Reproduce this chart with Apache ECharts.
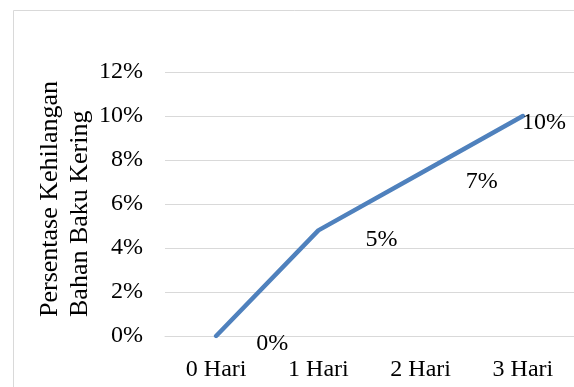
<!DOCTYPE html>
<html>
<head>
<meta charset="utf-8">
<script src="https://cdn.jsdelivr.net/npm/echarts@6/dist/echarts.min.js"></script>
<style>
html,body{margin:0;padding:0;background:#fff;}
#chart{width:574px;height:387px;}
</style>
</head>
<body>
<div id="chart"></div>
<script>
// ---- data ----
const categories = ['0 Hari', '1 Hari', '2 Hari', '3 Hari'];
const lossValues = [0, 0.048, 0.074, 0.100];
const yTicks = { min: 0, max: 0.12, interval: 0.02 };
const yAxisTitle = 'Persentase Kehilangan\nBahan Baku Kering';

// ---- style ----
const FONT = '"Liberation Serif", "Times New Roman", serif';
const labelOffsets = [[56, 8], [63, 9], [61, 9], [21, 7]];

const chart = echarts.init(document.getElementById('chart'), null, { renderer: 'canvas' });
const pct = v => Math.round(v * 100) + '%';

chart.setOption({
  animation: false,
  backgroundColor: '#fff',
  grid: { left: 165, top: 72, bottom: 51, right: -7, containLabel: false },
  xAxis: {
    type: 'category',
    data: categories,
    boundaryGap: true,
    axisLine: { show: true, lineStyle: { color: '#d9d9d9', width: 1 } },
    axisTick: { show: false },
    axisLabel: { color: '#000', fontFamily: FONT, fontSize: 24, margin: 22 },
    splitLine: { show: false }
  },
  yAxis: {
    type: 'value',
    min: yTicks.min, max: yTicks.max, interval: yTicks.interval,
    axisLine: { show: false },
    axisTick: { show: false },
    axisLabel: { color: '#000', fontFamily: FONT, fontSize: 24, margin: 22, formatter: pct },
    splitLine: { show: true, lineStyle: { color: '#d9d9d9', width: 1 } }
  },
  series: [{
    type: 'line',
    data: lossValues.map((v, i) => ({
      value: v,
      label: { offset: labelOffsets[i] }
    })),
    showSymbol: true,
    symbol: 'circle',
    symbolSize: 0.01,
    lineStyle: { color: '#4f81bd', width: 4.5, cap: 'round', join: 'round' },
    itemStyle: { color: '#4f81bd' },
    label: {
      show: true,
      position: 'inside',
      align: 'center',
      verticalAlign: 'middle',
      color: '#000',
      fontFamily: FONT,
      fontSize: 24,
      formatter: p => pct(p.value)
    },
    z: 3
  }],
  graphic: [
    {
      type: 'rect',
      shape: { x: 13.5, y: 10.5, width: 700, height: 500 },
      style: { fill: 'none', stroke: '#d9d9d9', lineWidth: 1 },
      silent: true
    },
    {
      type: 'text',
      x: 65, y: 317,
      rotation: Math.PI / 2,
      style: {
        text: yAxisTitle,
        font: '26px ' + FONT,
        fill: '#000',
        textAlign: 'left',
        textVerticalAlign: 'middle',
        lineHeight: 30
      },
      silent: true
    }
  ]
});
</script>
</body>
</html>
